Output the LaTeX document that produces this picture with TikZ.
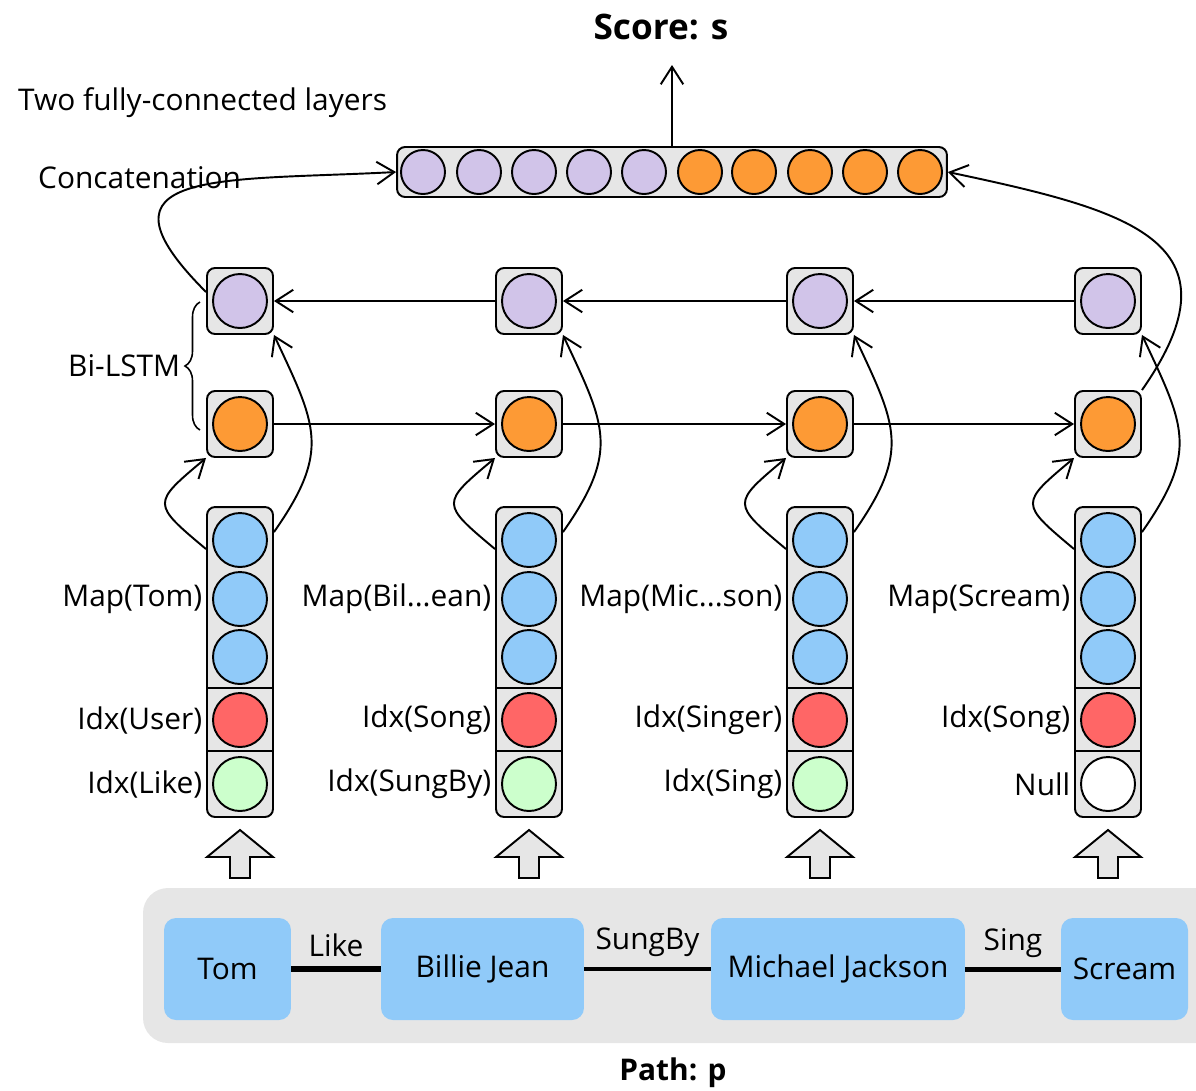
\documentclass[tikz,border=0pt]{standalone}
\usepackage{fontspec}
\setmainfont{Open Sans}
\usepackage{tikz}
\usetikzlibrary{positioning,arrows.meta,decorations.pathreplacing}

\definecolor{cellgray}{HTML}{E6E6E6}
\definecolor{lstmpurple}{HTML}{D1C4E9}
\definecolor{lstmorange}{HTML}{FD9A35}
\definecolor{mapblue}{HTML}{90CAF9}
\definecolor{idxred}{HTML}{FF6666}
\definecolor{idxgreen}{HTML}{CCFFCC}

\begin{document}
\begin{tikzpicture}[x=0.02cm, y=-0.02cm,
    every node/.style={font=\fontsize{17}{20}\selectfont},
    cellbox/.style={draw, fill=cellgray, rounded corners=0.16cm, line width=1.1pt,
      minimum width=1.32cm, minimum height=1.32cm},
    colbox/.style={cellbox, minimum height=6.2cm},
    unit/.style={draw, circle, line width=1.1pt, inner sep=0pt, minimum size=1.08cm},
    catunit/.style={unit, minimum size=0.88cm},
    entity/.style={fill=mapblue, rounded corners=0.24cm, minimum height=2.04cm},
    lbl/.style={anchor=east, inner sep=2pt},
    flow/.style={-{Straight Barb[length=0.35cm, width=0.45cm]}, line width=1.1pt},
    uparrow/.style={draw, fill=cellgray, line width=1.1pt}]
        \useasboundingbox (0,0) rectangle (1196,1090);
        % output
        \node[font=\bfseries\fontsize{20}{24}\selectfont] (score) at (661,27) {Score: s};
        \coordinate (scoretip) at (672,65);
        \node[anchor=west] (fclbl) at (12,103) {Two fully-connected layers};
        \node[anchor=west] (catlbl) at (32,178) {Concatenation};
        \node[cellbox, minimum width=11cm, minimum height=1cm] (concat) at (672,172) {};
        \node[catunit, fill=lstmpurple] (c1) at (423,172) {};
        \node[catunit, fill=lstmpurple] (c2) at (479,172) {};
        \node[catunit, fill=lstmpurple] (c3) at (534,172) {};
        \node[catunit, fill=lstmpurple] (c4) at (589,172) {};
        \node[catunit, fill=lstmpurple] (c5) at (644,172) {};
        \node[catunit, fill=lstmorange] (c6) at (700,172) {};
        \node[catunit, fill=lstmorange] (c7) at (754,172) {};
        \node[catunit, fill=lstmorange] (c8) at (810,172) {};
        \node[catunit, fill=lstmorange] (c9) at (865,172) {};
        \node[catunit, fill=lstmorange] (c10) at (920,172) {};
        \draw[flow] (concat.north) -- (scoretip);

        % Bi-LSTM cells
        \node[cellbox] (p1) at (240,301) {};
        \node[cellbox] (p2) at (529,301) {};
        \node[cellbox] (p3) at (820,301) {};
        \node[cellbox] (p4) at (1108,301) {};
        \node[unit, fill=lstmpurple] (p1u) at (p1) {};
        \node[unit, fill=lstmpurple] (p2u) at (p2) {};
        \node[unit, fill=lstmpurple] (p3u) at (p3) {};
        \node[unit, fill=lstmpurple] (p4u) at (p4) {};
        \node[cellbox] (o1) at (240,424) {};
        \node[cellbox] (o2) at (529,424) {};
        \node[cellbox] (o3) at (820,424) {};
        \node[cellbox] (o4) at (1108,424) {};
        \node[unit, fill=lstmorange] (o1u) at (o1) {};
        \node[unit, fill=lstmorange] (o2u) at (o2) {};
        \node[unit, fill=lstmorange] (o3u) at (o3) {};
        \node[unit, fill=lstmorange] (o4u) at (o4) {};
        \draw[flow] (o1) -- (o2);
        \draw[flow] (o2) -- (o3);
        \draw[flow] (o3) -- (o4);
        \draw[flow] (p4) -- (p3);
        \draw[flow] (p3) -- (p2);
        \draw[flow] (p2) -- (p1);
        \draw[decorate, decoration={brace, amplitude=0.3cm}, line width=0.9pt] (200,430) -- (200,302);
        \node[lbl] (bilstm) at (184,366) {Bi-LSTM};

        % input columns
        \node[colbox] (t1) at (240,662) {};
        \node[unit, fill=mapblue] (m1a) at (240,540) {};
        \node[unit, fill=mapblue] (m1b) at (240,599) {};
        \node[unit, fill=mapblue] (m1c) at (240,657) {};
        \node[unit, fill=idxred] (r1) at (240,720) {};
        \node[unit, fill=idxgreen] (g1) at (240,784) {};
        \draw[line width=1.1pt] (207,688) -- (273,688) (207,751) -- (273,751);
        \node[lbl] (lm1) at (t1.west |- m1b) {Map(Tom)};
        \node[lbl] (lr1) at (t1.west |- r1) {Idx(User)};
        \node[lbl] (lg1) at (t1.west |- g1) {Idx(Like)};

        \node[colbox] (t2) at (529,662) {};
        \node[unit, fill=mapblue] (m2a) at (529,540) {};
        \node[unit, fill=mapblue] (m2b) at (529,599) {};
        \node[unit, fill=mapblue] (m2c) at (529,657) {};
        \node[unit, fill=idxred] (r2) at (529,720) {};
        \node[unit, fill=idxgreen] (g2) at (529,784) {};
        \draw[line width=1.1pt] (496,688) -- (562,688) (496,751) -- (562,751);
        \node[lbl] (lm2) at (t2.west |- m2b) {Map(Bil...ean)};
        \node[lbl] (lr2) at (t2.west |- r2) {Idx(Song)};
        \node[lbl] (lg2) at (t2.west |- g2) {Idx(SungBy)};

        \node[colbox] (t3) at (820,662) {};
        \node[unit, fill=mapblue] (m3a) at (820,540) {};
        \node[unit, fill=mapblue] (m3b) at (820,599) {};
        \node[unit, fill=mapblue] (m3c) at (820,657) {};
        \node[unit, fill=idxred] (r3) at (820,720) {};
        \node[unit, fill=idxgreen] (g3) at (820,784) {};
        \draw[line width=1.1pt] (787,688) -- (853,688) (787,751) -- (853,751);
        \node[lbl] (lm3) at (t3.west |- m3b) {Map(Mic...son)};
        \node[lbl] (lr3) at (t3.west |- r3) {Idx(Singer)};
        \node[lbl] (lg3) at (t3.west |- g3) {Idx(Sing)};

        \node[colbox] (t4) at (1108,662) {};
        \node[unit, fill=mapblue] (m4a) at (1108,540) {};
        \node[unit, fill=mapblue] (m4b) at (1108,599) {};
        \node[unit, fill=mapblue] (m4c) at (1108,657) {};
        \node[unit, fill=idxred] (r4) at (1108,720) {};
        \node[unit, fill=white] (g4) at (1108,784) {};
        \draw[line width=1.1pt] (1075,688) -- (1141,688) (1075,751) -- (1141,751);
        \node[lbl] (lm4) at (t4.west |- m4b) {Map(Scream)};
        \node[lbl] (lr4) at (t4.west |- r4) {Idx(Song)};
        \node[lbl] (lg4) at (t4.west |- g4) {Null};

        % curved links
        \draw[flow] ([yshift=-0.86cm]t1.north west) to[out=140, in=220, looseness=2] (o1.south west);
        \draw[flow] ([yshift=-0.86cm]t2.north west) to[out=140, in=220, looseness=2] (o2.south west);
        \draw[flow] ([yshift=-0.86cm]t3.north west) to[out=140, in=220, looseness=2] (o3.south west);
        \draw[flow] ([yshift=-0.86cm]t4.north west) to[out=140, in=220, looseness=2] (o4.south west);
        \draw[flow] ([yshift=-0.52cm]t1.north east) to[out=55, in=-65, looseness=1.3] (p1.south east);
        \draw[flow] ([yshift=-0.52cm]t2.north east) to[out=55, in=-65, looseness=1.3] (p2.south east);
        \draw[flow] ([yshift=-0.52cm]t3.north east) to[out=55, in=-65, looseness=1.3] (p3.south east);
        \draw[flow] ([yshift=-0.52cm]t4.north east) to[out=55, in=-65, looseness=1.3] (p4.south east);
        \draw[flow] ([yshift=0.18cm]p1.west) to[out=135, in=183, looseness=2] (concat.west);
        \draw[flow] (o4.north east) to[out=55, in=-12, looseness=1.6] (concat.east);

        % block arrows
        \draw[uparrow] (240,830) -- (273,857) -- (250,857) -- (250,878) -- (230,878) -- (230,857) -- (207,857) -- cycle;
        \draw[uparrow] (529,830) -- (562,857) -- (539,857) -- (539,878) -- (519,878) -- (519,857) -- (496,857) -- cycle;
        \draw[uparrow] (820,830) -- (853,857) -- (830,857) -- (830,878) -- (810,878) -- (810,857) -- (787,857) -- cycle;
        \draw[uparrow] (1108,830) -- (1141,857) -- (1118,857) -- (1118,878) -- (1098,878) -- (1098,857) -- (1075,857) -- cycle;

        % path
        \fill[cellgray, rounded corners=0.5cm] (143,888) rectangle (1240,1043);
        \node[entity, minimum width=2.54cm] (tom) at (227.5,969) {Tom};
        \node[entity, minimum width=4.06cm] (billie) at (482.5,969) {Billie Jean};
        \node[entity, minimum width=5.08cm] (michael) at (838,969) {Michael Jackson};
        \node[entity, minimum width=2.54cm] (scream) at (1124.5,969) {Scream};
        \draw[line width=0.12cm] (tom) -- node[above=0.06cm] (like) {Like} (billie);
        \draw[line width=0.08cm] (billie) -- node[above=0.08cm] (sungby) {SungBy} (michael);
        \draw[line width=0.1cm] (michael) -- node[above=0.06cm] (sing) {Sing} (scream);
        \node[font=\bfseries\fontsize{17}{20}\selectfont] (path) at (673,1073) {Path: p};
\end{tikzpicture}
\end{document}
